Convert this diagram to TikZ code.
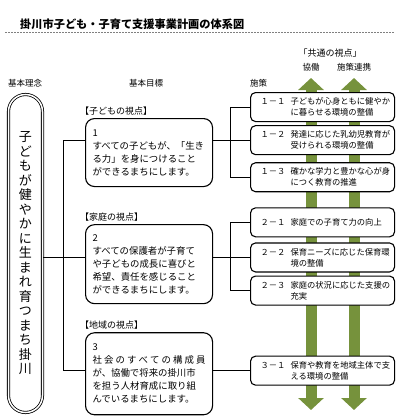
\documentclass[tikz,border=0pt]{standalone}
\usepackage{fontspec}
\setmainfont{Noto Sans CJK JP}
\usepackage{xcolor}
\usepackage{tikz}
\usetikzlibrary{arrows.meta, positioning, calc}
\definecolor{olivearrow}{RGB}{118,146,60}
\newcommand{\policytext}[2]{\hspace*{10pt}\makebox[30pt][l]{#1}\parbox[t]{101pt}{#2}\hspace*{3pt}}
\tikzstyle{rootbox} = [rectangle, rounded corners=17pt, minimum width=34pt, minimum height=318pt, draw=black, double, double distance=1.5pt, line width=0.8pt, fill=white, align=center, inner sep=0pt, font=\fontsize{13}{14.5}\selectfont]
\tikzstyle{goalbox} = [rectangle, rounded corners=9pt, minimum width=127pt, text width=113pt, inner xsep=7pt, align=left, draw=black, line width=1.1pt, fill=white, font=\fontsize{9.4}{13}\selectfont]
\tikzstyle{polbox} = [rectangle, rounded corners=5pt, minimum width=144pt, minimum height=29pt, inner xsep=0pt, draw=black, line width=1.1pt, fill=white, font=\fontsize{8.3}{11}\selectfont]
\tikzstyle{viewlabel} = [inner sep=0pt, font=\fontsize{9}{9}\selectfont]
\tikzstyle{heading} = [inner sep=0pt, font=\fontsize{8.5}{8.5}\selectfont]
\tikzstyle{line} = [line width=0.9pt, draw=black]
\tikzstyle{greenarrow} = [line width=11pt, draw=olivearrow, {Triangle[width=25pt,length=12pt]}-{Triangle[width=25pt,length=12pt]}]

\begin{document}
\begin{tikzpicture}[x=1pt, y=-1pt]
    \useasboundingbox (0,0) rectangle (400,418);
    \node (title) [anchor=west, inner sep=0pt, font=\fontsize{11.2}{11.2}\selectfont\bfseries] at (20,24) {掛川市子ども・子育て支援事業計画の体系図};
    \draw [gray, line width=0.8pt, dash pattern=on 2pt off 1pt] (5,32) -- (394,32);

    % common viewpoints
    \coordinate (kyoTop) at (311,78);
    \coordinate (kyoBot) at (311,410);
    \coordinate (renTop) at (354,78);
    \coordinate (renBot) at (354,410);
    \draw [greenarrow] (kyoBot) -- (kyoTop);
    \draw [greenarrow] (renBot) -- (renTop);
    \node (common) [heading, font=\fontsize{9}{9}\selectfont] at (330,53) {「共通の視点」};
    \node (kyo) [heading] at (311,67) {協働};
    \node (ren) [heading] at (354,67) {施策連携};

    \node (hRinen) [heading, anchor=west] at (8,83) {基本理念};
    \node (hMokuhyo) [heading] at (146,83) {基本目標};
    \node (hSesaku) [heading, anchor=west] at (250,83) {施策};

    \node (root) [rootbox] at (25.5,253.5) {子\\ど\\も\\が\\健\\や\\か\\に\\生\\ま\\れ\\育\\つ\\ま\\ち\\掛\\川};

    \node (goal1) [goalbox, minimum height=68pt, anchor=north west] at (85,118) {1\\すべての子どもが、「生き\\る力」を身につけること\\ができるまちにします。};
    \node (goal2) [goalbox, minimum height=79pt, below=37pt of goal1] {2\\すべての保護者が子育て\\や子どもの成長に喜びと\\希望、責任を感じること\\ができるまちにします。};
    \node (goal3) [goalbox, minimum height=82pt, below=28pt of goal2] {3\\\makebox[113pt][s]{社\hfill 会\hfill の\hfill す\hfill べ\hfill て\hfill の\hfill 構\hfill 成\hfill 員}\\が、協働で将来の掛川市\\を担う人材育成に取り組\\んでいるまちにします。};
    \node (v1) [viewlabel, above right=3pt and -5pt of goal1.north west] {【子どもの視点】};
    \node (v2) [viewlabel, above right=3pt and -5pt of goal2.north west] {【家庭の視点】};
    \node (v3) [viewlabel, above right=3pt and -5pt of goal3.north west] {【地域の視点】};

    \node (p11) [polbox, anchor=north west] at (250,92) {\policytext{１－１}{子どもが心身ともに健やか\\に暮らせる環境の整備}};
    \node (p12) [polbox, below=3pt of p11] {\policytext{１－２}{発達に応じた乳幼児教育が\\受けられる環境の整備}};
    \node (p13) [polbox, below=7pt of p12] {\policytext{１－３}{確かな学力と豊かな心が身\\につく教育の推進}};
    \node (p21) [polbox, below=15pt of p13] {\policytext{２－１}{家庭での子育て力の向上}};
    \node (p22) [polbox, below=5pt of p21] {\policytext{２－２}{保育ニーズに応じた保育環\\境の整備}};
    \node (p23) [polbox, below=3pt of p22] {\policytext{２－３}{家庭の状況に応じた支援の\\充実}};
    \node (p31) [polbox, below=50pt of p23] {\policytext{３－１}{保育や教育を地域主体で支\\える環境の整備}};

    \coordinate (ltrunk) at (63,0);
    \coordinate (rtrunk) at (230,0);
    \draw [line] (root.east |- p22) -- (goal2.west |- p22);
    \draw [line] (ltrunk |- p12) -- (ltrunk |- p31);
    \draw [line] (ltrunk |- p12) -- (goal1.west |- p12);
    \draw [line] (ltrunk |- p31) -- (goal3.west |- p31);
    \draw [line] (goal1.east |- p12) -- (p12.west);
    \draw [line] (rtrunk |- p11) -- (rtrunk |- p13);
    \draw [line] (rtrunk |- p11) -- (p11.west);
    \draw [line] (rtrunk |- p13) -- (p13.west);
    \draw [line] (goal2.east |- p22) -- (p22.west);
    \draw [line] (rtrunk |- p21) -- (rtrunk |- p23);
    \draw [line] (rtrunk |- p21) -- (p21.west);
    \draw [line] (rtrunk |- p23) -- (p23.west);
    \draw [line] (goal3.east |- p31) -- (p31.west);
\end{tikzpicture}
\end{document}
